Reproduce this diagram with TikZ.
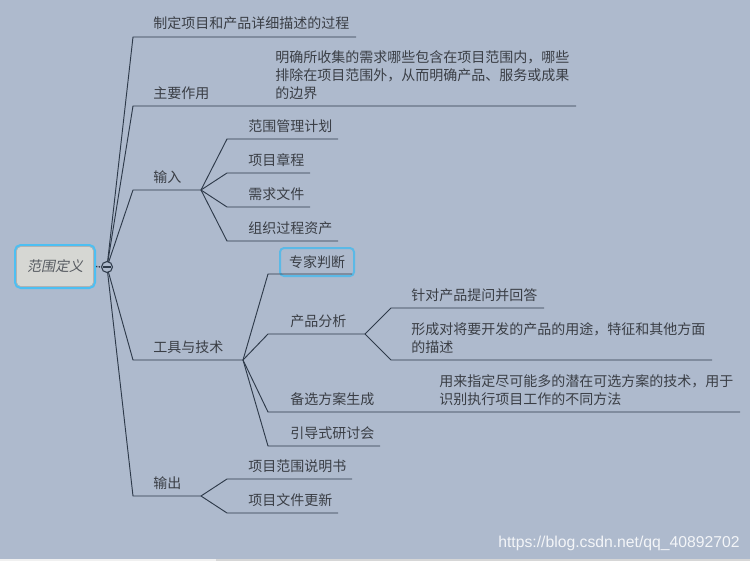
\documentclass[tikz,border=0pt]{standalone}
\usepackage{fontspec}
\setmainfont{Noto Sans CJK SC}
\newfontfamily\slantcjk[FakeSlant=0.2]{Noto Sans CJK SC}
\newfontfamily\wmfont{Liberation Sans}
\usetikzlibrary{calc}
\definecolor{mapbg}{HTML}{AEBACD}
\definecolor{mapline}{HTML}{2E3A4A}
\definecolor{maptext}{HTML}{3A3E45}
\definecolor{rootblue}{HTML}{4DBFF2}
\definecolor{rootfill}{HTML}{D6D7D3}
\definecolor{selblue}{HTML}{5BB9E6}

\begin{document}
\begin{tikzpicture}[
	x=0.75pt,y=-0.75pt,
	topic/.style={anchor=west,inner sep=0pt,text=maptext,align=left,
		font=\fontsize{10.5}{13.5}\selectfont},
	branch/.style={draw=mapline,line width=0.7pt}]
\fill[mapbg] (0,0) rectangle (750,561);
\useasboundingbox (0,0) rectangle (750,561);
\fill[white!94!black] (0,559) rectangle (216,561);
\fill[black!16] (216,559) rectangle (750,561);

% central topic
\node[draw=rootblue,line width=2pt,rounded corners=4pt,fill=rootfill,
	minimum width=59.5pt,minimum height=31.75pt,text=maptext!85!white,
	font=\slantcjk\fontsize{10.5}{13.5}\selectfont] (root) at (55,266.5) {范围定义};
\draw[black!30,rounded corners=3pt] ($(root.north west)+(2.5,2.5)$) rectangle ($(root.south east)+(-2.5,-2.5)$);
\coordinate (hc) at (107,267);

% first level
\coordinate (def-s) at (133,37);   \coordinate (def-e) at (356,37);
\coordinate (use-s) at (133,106);  \coordinate (use-e) at (576,106);
\coordinate (in-s) at (133,190);   \coordinate (in-j) at (201,190);
\coordinate (tool-s) at (133,360); \coordinate (tool-j) at (243,360);
\coordinate (out-s) at (133,496);  \coordinate (out-j) at (201,496);
\node[topic] (def) at (153,23) {制定项目和产品详细描述的过程};
\node[topic] (use) at (153,93) {主要作用};
\node[topic] (use-d) at (275,75) {明确所收集的需求哪些包含在项目范围内，哪些\\排除在项目范围外，从而明确产品、服务或成果\\的边界};
\node[topic] (in) at (153,177) {输入};
\node[topic] (tool) at (153,347) {工具与技术};
\node[topic] (out) at (153,483) {输出};
\draw[branch] (hc) -- (def-s) -- (def-e);
\draw[branch] (hc) -- (use-s) -- (use-e);
\draw[branch] (hc) -- (in-s) -- (in-j);
\draw[branch] (hc) -- (tool-s) -- (tool-j);
\draw[branch] (hc) -- (out-s) -- (out-j);

% inputs
\foreach \y/\len/\txt [count=\i] in {139/338/范围管理计划,173/310/项目章程,207/310/需求文件,241/338/组织过程资产}{
	\coordinate (in\i-s) at (227,\y);
	\coordinate (in\i-e) at (\len,\y);
	\node[topic] (in\i) at (248,\y-13) {\txt};
	\draw[branch] (in-j) -- (in\i-s) -- (in\i-e);
}

% tools and techniques
\coordinate (exp-s) at (268,274); \coordinate (exp-e) at (352,274);
\coordinate (pa-s) at (268,334);  \coordinate (pa-j) at (365,334);
\coordinate (alt-s) at (268,412); \coordinate (alt-e) at (740,412);
\coordinate (ws-s) at (268,446);  \coordinate (ws-e) at (380,446);
\node[anchor=center,inner sep=0pt,draw=selblue,line width=1.5pt,rounded corners=3pt,
	minimum width=55.5pt,minimum height=21pt,text=maptext,
	font=\fontsize{10.5}{13.5}\selectfont] (exp) at (317,262) {专家判断};
\node[topic] (pa) at (290,321) {产品分析};
\node[topic] (alt) at (290,399) {备选方案生成};
\node[topic] (alt-d) at (439,390) {用来指定尽可能多的潜在可选方案的技术，用于\\识别执行项目工作的不同方法};
\node[topic] (ws) at (290,433) {引导式研讨会};
\draw[branch] (tool-j) -- (exp-s) -- (exp-e);
\draw[branch] (tool-j) -- (pa-s) -- (pa-j);
\draw[branch] (tool-j) -- (alt-s) -- (alt-e);
\draw[branch] (tool-j) -- (ws-s) -- (ws-e);

% product analysis
\coordinate (pa1-s) at (391,308); \coordinate (pa1-e) at (544,308);
\coordinate (pa2-s) at (391,360); \coordinate (pa2-e) at (712,360);
\node[topic] (pa1) at (411,295) {针对产品提问并回答};
\node[topic] (pa2) at (411,338.5) {形成对将要开发的产品的用途，特征和其他方面\\的描述};
\draw[branch] (pa-j) -- (pa1-s) -- (pa1-e);
\draw[branch] (pa-j) -- (pa2-s) -- (pa2-e);

% outputs
\foreach \y/\len/\txt [count=\i] in {479/352/项目范围说明书,513/338/项目文件更新}{
	\coordinate (out\i-s) at (227,\y);
	\coordinate (out\i-e) at (\len,\y);
	\node[topic] (out\i) at (248,\y-13) {\txt};
	\draw[branch] (out-j) -- (out\i-s) -- (out\i-e);
}

% collapse button
\node[circle,draw=mapline,fill=mapbg,line width=0.8pt,minimum size=8.2pt,inner sep=0pt] (hub) at (hc) {};
\draw[mapline,line width=0.8pt] ([xshift=-3pt]hub.center) -- ([xshift=3pt]hub.center);
\draw[mapline,line width=1pt,densely dotted] (root.east) -- (hub.west);

\node[anchor=east,inner sep=0pt,text=white!85!mapbg,font=\wmfont\fontsize{11.8}{12}\selectfont] (wm) at (740,543) {https://blog.csdn.net/qq\_40892702};
\end{tikzpicture}
\end{document}
